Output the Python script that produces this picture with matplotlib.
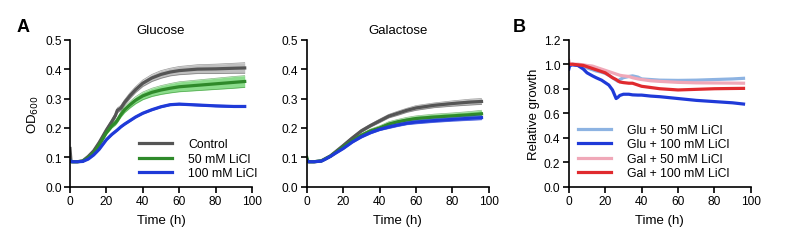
import matplotlib

matplotlib.use("Agg")
import matplotlib.pyplot as plt

plt.rcParams["font.family"] = ["Liberation Sans", "DejaVu Sans"]
plt.rcParams["font.size"] = 9

# Panel A, glucose (OD600)
glu_time = [0, 0.5, 1, 4, 7, 10, 13, 16, 20, 23, 25, 26, 28, 30, 33, 36, 40, 45, 50, 55, 60, 70, 80, 90, 96]
glu_control = [0.13, 0.09, 0.085, 0.085, 0.088, 0.103, 0.122, 0.15, 0.193, 0.222, 0.243, 0.26, 0.268, 0.287,
               0.31, 0.33, 0.352, 0.37, 0.382, 0.39, 0.395, 0.4, 0.401, 0.403, 0.404]
glu_control_sd = [0.0, 0.002, 0.002, 0.002, 0.002, 0.003, 0.004, 0.005, 0.006, 0.007, 0.008, 0.008, 0.009, 0.009,
                  0.01, 0.01, 0.011, 0.012, 0.013, 0.013, 0.014, 0.015, 0.016, 0.017, 0.018]
glu_licl50 = [0.09, 0.086, 0.085, 0.085, 0.087, 0.099, 0.115, 0.142, 0.184, 0.207, 0.218, 0.226, 0.246, 0.262,
              0.279, 0.294, 0.309, 0.321, 0.329, 0.335, 0.34, 0.345, 0.35, 0.355, 0.358]
glu_licl50_sd = [0.0, 0.002, 0.002, 0.002, 0.002, 0.003, 0.004, 0.005, 0.006, 0.007, 0.008, 0.008, 0.009, 0.01,
                 0.011, 0.012, 0.013, 0.014, 0.015, 0.016, 0.017, 0.018, 0.019, 0.02, 0.02]
glu_licl100 = [0.09, 0.086, 0.085, 0.085, 0.086, 0.094, 0.108, 0.127, 0.16, 0.178, 0.188, 0.193, 0.204, 0.213,
               0.225, 0.237, 0.25, 0.262, 0.272, 0.279, 0.281, 0.278, 0.275, 0.273, 0.273]
glu_licl100_sd = [0.0, 0.001, 0.001, 0.001, 0.001, 0.002, 0.002, 0.002, 0.003, 0.003, 0.003, 0.003, 0.003, 0.003,
                  0.003, 0.003, 0.003, 0.003, 0.003, 0.003, 0.003, 0.003, 0.003, 0.003, 0.003]

# Panel A, galactose (OD600)
gal_time = [0, 0.5, 1, 4, 8, 10, 13, 16, 20, 25, 30, 35, 40, 45, 50, 55, 60, 70, 80, 90, 96]
gal_control = [0.095, 0.088, 0.085, 0.085, 0.088, 0.095, 0.105, 0.12, 0.14, 0.166, 0.19, 0.208, 0.224, 0.24,
               0.25, 0.26, 0.268, 0.277, 0.283, 0.288, 0.29]
gal_control_sd = [0.0, 0.002, 0.002, 0.002, 0.002, 0.002, 0.003, 0.003, 0.004, 0.004, 0.005, 0.005, 0.006, 0.006,
                  0.007, 0.007, 0.008, 0.008, 0.009, 0.01, 0.01]
gal_licl50 = [0.1, 0.088, 0.085, 0.085, 0.088, 0.094, 0.104, 0.117, 0.135, 0.156, 0.175, 0.19, 0.2, 0.213,
              0.221, 0.227, 0.232, 0.237, 0.241, 0.245, 0.248]
gal_licl50_sd = [0.0, 0.002, 0.002, 0.002, 0.002, 0.002, 0.003, 0.003, 0.004, 0.004, 0.005, 0.006, 0.007, 0.008,
                 0.008, 0.009, 0.009, 0.01, 0.01, 0.011, 0.012]
gal_licl100 = [0.09, 0.087, 0.085, 0.085, 0.087, 0.093, 0.103, 0.115, 0.13, 0.152, 0.17, 0.184, 0.195, 0.203,
               0.21, 0.216, 0.22, 0.225, 0.229, 0.233, 0.235]
gal_licl100_sd = [0.0, 0.001, 0.001, 0.001, 0.002, 0.002, 0.002, 0.003, 0.003, 0.003, 0.004, 0.004, 0.004, 0.005,
                  0.005, 0.005, 0.006, 0.006, 0.006, 0.007, 0.007]

# Panel B, relative growth
rel_time = [0, 0.5, 2, 5, 8, 10, 13, 15, 18, 20, 22, 24, 26, 27, 28, 30, 33, 35, 38, 40, 45, 50, 60, 70, 80, 90, 96]
glu50_rel = [1.0, 0.99, 1.0, 0.99, 0.98, 0.97, 0.955, 0.945, 0.935, 0.925, 0.91, 0.89, 0.87, 0.86, 0.875, 0.89,
             0.9, 0.905, 0.895, 0.88, 0.875, 0.87, 0.868, 0.87, 0.875, 0.88, 0.885]
glu100_rel = [0.96, 0.99, 0.995, 0.99, 0.96, 0.93, 0.905, 0.89, 0.87, 0.85, 0.83, 0.79, 0.72, 0.73, 0.745, 0.755,
              0.755, 0.75, 0.748, 0.748, 0.74, 0.735, 0.72, 0.705, 0.695, 0.685, 0.675]
gal50_rel = [1.03, 1.0, 1.0, 1.0, 0.995, 0.99, 0.985, 0.975, 0.96, 0.95, 0.94, 0.93, 0.92, 0.915, 0.91, 0.905,
             0.9, 0.89, 0.88, 0.875, 0.865, 0.86, 0.852, 0.848, 0.847, 0.846, 0.845]
gal100_rel = [1.0, 1.0, 1.0, 0.995, 0.99, 0.98, 0.965, 0.955, 0.94, 0.93, 0.91, 0.89, 0.875, 0.865, 0.855, 0.85,
              0.845, 0.845, 0.83, 0.82, 0.81, 0.8, 0.79, 0.795, 0.8, 0.802, 0.803]

legend_a = ["Control", "50 mM LiCl", "100 mM LiCl"]
legend_b = ["Glu + 50 mM LiCl", "Glu + 100 mM LiCl", "Gal + 50 mM LiCl", "Gal + 100 mM LiCl"]

line_colors = ["#555555", "#2f8a2a", "#1f3ad8"]
band_colors = ["#b8b8b8", "#7fd97f", "#7f90ec"]
rel_colors = ["#8db3e2", "#1f3ad8", "#f0a8b8", "#e02a2e"]


def style_axes(ax):
    ax.spines["top"].set_visible(False)
    ax.spines["right"].set_visible(False)
    for side in ("left", "bottom"):
        ax.spines[side].set_linewidth(1.2)
    ax.tick_params(direction="out", length=4, width=1.2, labelsize=8.6, pad=2)
    ax.set_xlim(0, 100)
    ax.set_xticks([0, 20, 40, 60, 80, 100])
    ax.set_xlabel("Time (h)", fontsize=9.5, labelpad=5)


fig = plt.figure(figsize=(8, 2.53), dpi=100)
ax1 = fig.add_axes([0.0875, 0.258, 0.2275, 0.581])
ax2 = fig.add_axes([0.3835, 0.258, 0.2275, 0.581])
ax3 = fig.add_axes([0.711, 0.258, 0.2275, 0.581])

for ax, t, series, title in [
    (ax1, glu_time, [(glu_control, glu_control_sd), (glu_licl50, glu_licl50_sd), (glu_licl100, glu_licl100_sd)], "Glucose"),
    (ax2, gal_time, [(gal_control, gal_control_sd), (gal_licl50, gal_licl50_sd), (gal_licl100, gal_licl100_sd)], "Galactose"),
]:
    for (mean, sd), lc, bc, lab in zip(series, line_colors, band_colors, legend_a):
        lo = [m - s for m, s in zip(mean, sd)]
        hi = [m + s for m, s in zip(mean, sd)]
        ax.fill_between(t, lo, hi, color=bc, lw=0, alpha=0.9)
        ax.plot(t, lo, color=lc, lw=0.5, alpha=0.6)
        ax.plot(t, hi, color=lc, lw=0.5, alpha=0.6)
        ax.plot(t, mean, color=lc, lw=2.3, label=lab)
    style_axes(ax)
    ax.set_ylim(0, 0.5)
    ax.set_yticks([0.0, 0.1, 0.2, 0.3, 0.4, 0.5])
    ax.set_yticklabels(["0.0", "0.1", "0.2", "0.3", "0.4", "0.5"])
    ax.set_title(title, fontsize=9.5, pad=5)

ax1.set_ylabel("OD$_{600}$", fontsize=9.5, labelpad=3)
handles = ax1.get_lines()[2::3]
ax1.legend(handles, legend_a, loc="lower left", bbox_to_anchor=(0.38, 0.05), frameon=False,
           fontsize=8.8, handlelength=2.7, handletextpad=1.3, labelspacing=0.2,
           borderpad=0, borderaxespad=0)

for vals, c, lab in zip([glu50_rel, glu100_rel, gal50_rel, gal100_rel], rel_colors, legend_b):
    ax3.plot(rel_time, vals, color=c, lw=2.3, label=lab)
style_axes(ax3)
ax3.set_ylim(0, 1.2)
ax3.set_yticks([0.0, 0.2, 0.4, 0.6, 0.8, 1.0, 1.2])
ax3.set_yticklabels(["0.0", "0.2", "0.4", "0.6", "0.8", "1.0", "1.2"])
ax3.set_ylabel("Relative growth", fontsize=9.5, labelpad=3)
ax3.legend(loc="lower left", bbox_to_anchor=(0.05, 0.05), frameon=False, fontsize=8.8,
           handlelength=2.7, handletextpad=1.3, labelspacing=0.2,
           borderpad=0, borderaxespad=0)

fig.text(0.021, 0.874, "A", fontsize=13, fontweight="bold")
fig.text(0.641, 0.874, "B", fontsize=13, fontweight="bold")

fig.savefig("out.png", dpi=100)
